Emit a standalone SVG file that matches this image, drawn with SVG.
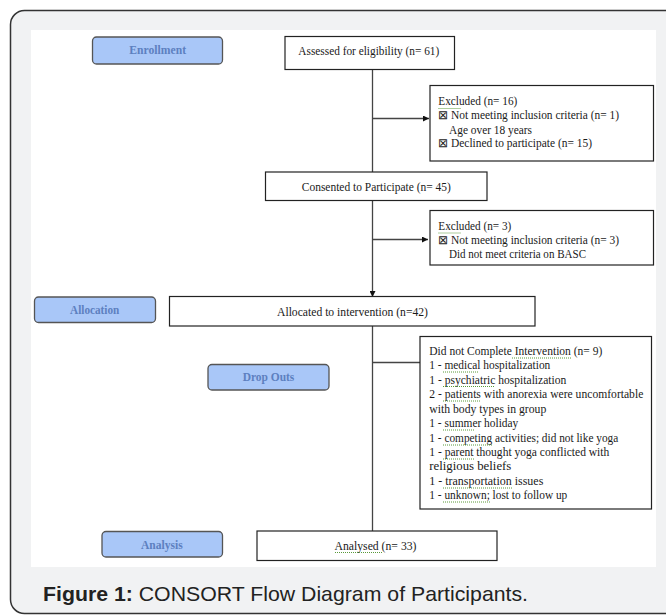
<svg xmlns="http://www.w3.org/2000/svg" width="666" height="616" viewBox="0 0 666 616">
<defs>
<marker id="arr" viewBox="0 0 8 8" refX="8" refY="4" markerWidth="6" markerHeight="6" markerUnits="userSpaceOnUse" orient="auto">
<path d="M0,0 L8,4 L0,8 Z" fill="#111"/>
</marker>
<style>
.box{fill:#fff;stroke:#222;stroke-width:1.2}
.lbl{fill:#a9c7f8;stroke:#555;stroke-width:1.3}
.lt{font-family:"Liberation Serif",serif;font-weight:bold;font-size:11.5px;fill:#5d80c0;text-anchor:middle}
.t{font-family:"Liberation Serif",serif;font-size:12px;fill:#1a1a1a}
.tc{font-family:"Liberation Serif",serif;font-size:12px;fill:#1a1a1a;text-anchor:middle}
.c{stroke:#444;stroke-width:1.3;fill:none}
.sq{stroke:#5a9a3a;stroke-width:1;stroke-dasharray:1 1;fill:none}
</style>
</defs>
<rect x="10.5" y="10.5" width="700" height="603" rx="14" fill="#f1f2f3" stroke="#333" stroke-width="1.5"/>
<rect x="31" y="30" width="625" height="537" fill="#fff"/>

<g id="connectors">
<line class="c" x1="372.5" y1="69" x2="372.5" y2="172"/>
<line class="c" x1="372.5" y1="118.5" x2="429" y2="118.5" marker-end="url(#arr)"/>
<line class="c" x1="372.5" y1="200" x2="372.5" y2="297" marker-end="url(#arr)"/>
<line class="c" x1="372.5" y1="239.5" x2="428" y2="239.5" marker-end="url(#arr)"/>
<line class="c" x1="372.5" y1="326" x2="372.5" y2="531"/>
<line class="c" x1="372.5" y1="362.5" x2="420" y2="362.5"/>
</g>

<g id="enrollment">
<rect class="lbl" x="92.5" y="37" width="130" height="27" rx="4"/>
<text class="lt" x="157.7" y="53.5" textLength="56.7" lengthAdjust="spacingAndGlyphs">Enrollment</text>
</g>
<g id="assessed">
<rect class="box" x="285" y="36.5" width="169.5" height="33"/>
<text class="tc" x="368.8" y="55" textLength="141" lengthAdjust="spacingAndGlyphs">Assessed for eligibility (n= 61)</text>
</g>
<g id="excluded1">
<rect class="box" x="430" y="85.5" width="223.5" height="75.5"/>
<text class="t" x="438.3" y="105" textLength="79" lengthAdjust="spacingAndGlyphs">Excluded (n= 16)</text>
<path class="sq" d="M438.5,108.5 H461"/>
<text class="t" x="437.5" y="118.5" font-size="9">⊠</text>
<text class="t" x="451" y="118.5" textLength="168" lengthAdjust="spacingAndGlyphs">Not meeting inclusion criteria (n= 1)</text>
<text class="t" x="449" y="133.5" textLength="83" lengthAdjust="spacingAndGlyphs">Age over 18 years</text>
<text class="t" x="437.5" y="147" font-size="9">⊠</text>
<text class="t" x="451" y="147" textLength="141" lengthAdjust="spacingAndGlyphs">Declined to participate (n= 15)</text>
</g>
<g id="consented">
<rect class="box" x="265.5" y="172" width="221.5" height="28.5"/>
<text class="tc" x="376.3" y="190.5" textLength="149" lengthAdjust="spacingAndGlyphs">Consented to Participate (n= 45)</text>
</g>
<g id="excluded2">
<rect class="box" x="430" y="210.5" width="223.5" height="54.5"/>
<text class="t" x="438.3" y="229.5" textLength="73" lengthAdjust="spacingAndGlyphs">Excluded (n= 3)</text>
<path class="sq" d="M438.5,233 H461"/>
<text class="t" x="437.5" y="243.5" font-size="9">⊠</text>
<text class="t" x="451" y="243.5" textLength="168" lengthAdjust="spacingAndGlyphs">Not meeting inclusion criteria (n= 3)</text>
<text class="t" x="449" y="257.5" textLength="137" lengthAdjust="spacingAndGlyphs">Did not meet criteria on BASC</text>
</g>
<g id="allocation">
<rect class="lbl" x="34.5" y="297" width="121" height="25.5" rx="4"/>
<text class="lt" x="94.7" y="313.5" textLength="49.3" lengthAdjust="spacingAndGlyphs">Allocation</text>
</g>
<g id="allocated">
<rect class="box" x="169.5" y="296.5" width="365.5" height="29.5"/>
<text class="tc" x="352.5" y="316" textLength="151" lengthAdjust="spacingAndGlyphs">Allocated to intervention (n=42)</text>
</g>
<g id="dropouts">
<rect class="lbl" x="208" y="364.5" width="121" height="25.5" rx="4"/>
<text class="lt" x="268.5" y="381" textLength="51.7" lengthAdjust="spacingAndGlyphs">Drop Outs</text>
</g>
<g id="dropout-reasons">
<rect class="box" x="420" y="336.5" width="231.5" height="172.5"/>
<text class="t" x="429.3" y="355" textLength="173" lengthAdjust="spacingAndGlyphs">Did not Complete Intervention (n= 9)</text>
<text class="t" x="429.3" y="369" textLength="121" lengthAdjust="spacingAndGlyphs">1 - medical hospitalization</text>
<text class="t" x="429.3" y="383.5" textLength="137" lengthAdjust="spacingAndGlyphs">1 - psychiatric hospitalization</text>
<text class="t" x="429.3" y="398" textLength="214" lengthAdjust="spacingAndGlyphs">2 - patients with anorexia were uncomfortable</text>
<text class="t" x="429.3" y="413" textLength="117" lengthAdjust="spacingAndGlyphs">with body types in group</text>
<text class="t" x="429.3" y="427" textLength="89" lengthAdjust="spacingAndGlyphs">1 - summer holiday</text>
<text class="t" x="429.3" y="442" textLength="189" lengthAdjust="spacingAndGlyphs">1 - competing activities; did not like yoga</text>
<text class="t" x="429.3" y="456" textLength="180" lengthAdjust="spacingAndGlyphs">1 - parent thought yoga conflicted with</text>
<text class="t" x="429.3" y="470" textLength="82" lengthAdjust="spacingAndGlyphs">religious beliefs</text>
<text class="t" x="429.3" y="485" textLength="114" lengthAdjust="spacingAndGlyphs">1 - transportation issues</text>
<text class="t" x="429.3" y="499" textLength="138" lengthAdjust="spacingAndGlyphs">1 - unknown; lost to follow up</text>
<path class="sq" d="M512,358 H572 M443,372 H478 M443,386.5 H495 M443,401 H480 M443,430 H475 M443,445 H492 M443,459 H474 M443,488 H513 M443,502 H490"/>
</g>
<g id="analysis">
<rect class="lbl" x="102" y="531.5" width="120.5" height="25.5" rx="4"/>
<text class="lt" x="161.8" y="548.5" textLength="41.7" lengthAdjust="spacingAndGlyphs">Analysis</text>
</g>
<g id="analysed">
<rect class="box" x="257" y="531" width="240" height="29.5"/>
<text class="tc" x="375.5" y="549.5" textLength="82" lengthAdjust="spacingAndGlyphs">Analysed (n= 33)</text>
<path class="sq" d="M335,552.5 H383"/>
</g>
<text x="43" y="601" font-family="'Liberation Sans',Arial,sans-serif" font-size="21" fill="#222" textLength="485" lengthAdjust="spacingAndGlyphs"><tspan font-weight="bold">Figure 1:</tspan> CONSORT Flow Diagram of Participants.</text>
</svg>
